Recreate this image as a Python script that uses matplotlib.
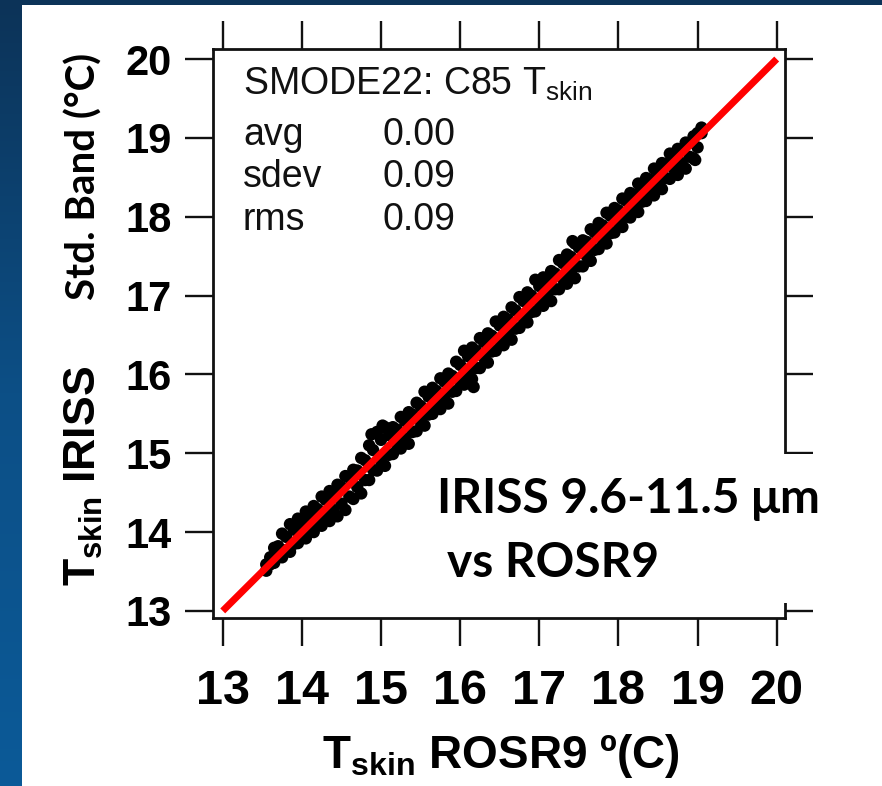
import numpy as np
import matplotlib
matplotlib.use('Agg')
import matplotlib.pyplot as plt
from matplotlib.patches import Rectangle

# Data
# ROSR9 skin temperature (deg C) and IRISS - ROSR9 difference, read along the band edges
rosr_outer = [13.55, 13.65, 13.75, 13.85, 13.95, 14.05, 14.15, 14.25, 14.35, 14.45,
              14.55, 14.65, 14.75, 14.85, 14.95, 15.05, 15.15, 15.25, 15.35, 15.45,
              15.55, 15.65, 15.75, 15.85, 15.95, 16.05, 16.15, 16.25, 16.35, 16.45,
              16.55, 16.65, 16.75, 16.85, 16.95, 17.05, 17.15, 17.25, 17.35, 17.45,
              17.55, 17.65, 17.75, 17.85, 17.95, 18.05, 18.15, 18.25, 18.35, 18.45,
              18.55, 18.65, 18.75, 18.85, 18.95, 19.05]
diff_hi = [0.04, 0.15, 0.23, 0.25, 0.22, 0.21, 0.18, 0.20, 0.17, 0.15,
           0.16, 0.14, 0.19, 0.25, 0.32, 0.28, 0.18, 0.21, 0.17, 0.19,
           0.23, 0.18, 0.20, 0.16, 0.21, 0.25, 0.19, 0.21, 0.17, 0.22,
           0.18, 0.20, 0.23, 0.19, 0.25, 0.18, 0.16, 0.20, 0.17, 0.21,
           0.15, 0.19, 0.17, 0.20, 0.16, 0.18, 0.15, 0.17, 0.14, 0.16,
           0.13, 0.15, 0.11, 0.09, 0.07, 0.08]
diff_lo = [-0.04, -0.04, -0.07, -0.10, -0.09, -0.13, -0.15, -0.17, -0.21, -0.25,
           -0.27, -0.23, -0.26, -0.19, -0.17, -0.21, -0.16, -0.19, -0.23, -0.17,
           -0.20, -0.15, -0.19, -0.22, -0.16, -0.18, -0.21, -0.17, -0.20, -0.15,
           -0.18, -0.21, -0.16, -0.19, -0.15, -0.18, -0.22, -0.17, -0.20, -0.23,
           -0.18, -0.21, -0.16, -0.19, -0.15, -0.18, -0.16, -0.19, -0.15, -0.18,
           -0.20, -0.17, -0.22, -0.24, -0.21, 0.01]
rosr_inner = [13.60, 13.70, 13.80, 13.90, 14.00, 14.10, 14.20, 14.30, 14.40, 14.50,
              14.60, 14.70, 14.80, 14.90, 15.00, 15.10, 15.20, 15.30, 15.40, 15.50,
              15.60, 15.70, 15.80, 15.90, 16.00, 16.10, 16.20, 16.30, 16.40, 16.50,
              16.60, 16.70, 16.80, 16.90, 17.00, 17.10, 17.20, 17.30, 17.40, 17.50,
              17.60, 17.70, 17.80, 17.90, 18.00, 18.10, 18.20, 18.30, 18.40, 18.50,
              18.60, 18.70, 18.80, 18.90, 19.00]
diff_in_hi = [0.08, 0.12, 0.14, 0.13, 0.11, 0.10, 0.09, 0.11, 0.08, 0.07,
              0.09, 0.08, 0.11, 0.14, 0.17, 0.13, 0.10, 0.11, 0.09, 0.10,
              0.12, 0.09, 0.11, 0.08, 0.12, 0.13, 0.10, 0.11, 0.09, 0.12,
              0.10, 0.11, 0.13, 0.10, 0.12, 0.09, 0.08, 0.11, 0.09, 0.11,
              0.08, 0.10, 0.09, 0.11, 0.08, 0.10, 0.08, 0.09, 0.07, 0.08,
              0.07, 0.08, 0.05, 0.04, 0.06]
diff_in_lo = [-0.01, -0.01, -0.03, -0.05, -0.06, -0.08, -0.09, -0.10, -0.12, -0.14,
              -0.15, -0.13, -0.14, -0.11, -0.10, -0.12, -0.09, -0.11, -0.13, -0.10,
              -0.11, -0.09, -0.10, -0.12, -0.09, -0.10, -0.12, -0.09, -0.11, -0.08,
              -0.10, -0.12, -0.09, -0.11, -0.08, -0.10, -0.12, -0.09, -0.11, -0.13,
              -0.10, -0.12, -0.09, -0.11, -0.08, -0.10, -0.09, -0.11, -0.08, -0.10,
              -0.11, -0.09, -0.12, -0.14, -0.12]
# a few stray points off the band
rosr_stray = [14.88, 15.02, 16.17, 17.42, 18.97]
diff_stray = [0.36, 0.33, -0.33, 0.27, -0.25]

one_to_one = [13, 20]
ticks = [13, 14, 15, 16, 17, 18, 19, 20]
stats_names = ['avg', 'sdev', 'rms']
stats_vals = ['0.00', '0.09', '0.09']

# Fonts
plt.rcParams['mathtext.fontset'] = 'custom'
plt.rcParams['mathtext.rm'] = 'Liberation Sans'
plt.rcParams['mathtext.bf'] = 'Liberation Sans:bold'

W, H = 882, 786
def fx(px):
    return px / W
def fy(py):
    return 1 - py / H

fig = plt.figure(figsize=(W / 100, H / 100), dpi=100)

# Blue slide background with the white panel
bg = fig.add_axes([0, 0, 1, 1], zorder=-10)
grad = np.linspace(0, 1, 256).reshape(-1, 1)
cmap = matplotlib.colors.LinearSegmentedColormap.from_list('bg', ['#0c3358', '#0d4f86', '#0b5a98'])
bg.imshow(grad, aspect='auto', cmap=cmap, extent=[0, 1, 0, 1])
bg.add_patch(Rectangle((fx(22), 0), 1, fy(5), facecolor='white', edgecolor='none'))
bg.set_xlim(0, 1)
bg.set_ylim(0, 1)
bg.axis('off')

ax = fig.add_axes([fx(213), fy(618), fx(785) - fx(213), fy(49) - fy(618)])

x_all = np.concatenate([rosr_outer, rosr_outer, rosr_inner, rosr_inner, rosr_stray])
d_all = np.concatenate([diff_hi, diff_lo, diff_in_hi, diff_in_lo, diff_stray])
ax.scatter(x_all, x_all + d_all, s=80, c='black', edgecolors='none', zorder=2)
ax.plot(one_to_one, one_to_one, color='#ff0000', lw=5, solid_capstyle='butt', zorder=3)

ax.set_xlim(12.877, 20.105)
ax.set_ylim(12.91, 20.127)
ax.set_xticks(ticks)
ax.set_yticks(ticks)
ax.tick_params(axis='both', direction='out', length=20, width=1.7, color='#111111',
               top=True, right=True)
ax.tick_params(axis='x', pad=17, labelsize=35)
ax.tick_params(axis='y', pad=10, labelsize=30)
for lab in ax.get_xticklabels():
    lab.set_family(['Liberation Sans Narrow', 'Liberation Sans'])
    lab.set_weight('bold')
for lab in ax.get_yticklabels():
    lab.set_family('Liberation Sans')
    lab.set_weight('bold')
for sp in ax.spines.values():
    sp.set_linewidth(2.0)
    sp.set_color('#111111')

# Stats text
fig.text(fx(243), fy(95), 'SMODE22: C85 T$_{\\mathrm{skin}}$', fontsize=27,
         family='Liberation Sans', color='#111111', va='baseline')
for i in range(len(stats_names)):
    by = [145, 187, 230][i]
    fig.text(fx(243), fy(by), stats_names[i], fontsize=27, family='Liberation Sans',
             color='#111111', va='baseline')
    fig.text(fx(382), fy(by), stats_vals[i], fontsize=27, family='Liberation Sans',
             color='#111111', va='baseline')

# Band label on a white patch over the right axis
fig.patches.append(Rectangle((fx(432), fy(603)), fx(829) - fx(432), fy(454) - fy(603),
                             transform=fig.transFigure, facecolor='white',
                             edgecolor='none', zorder=5))
fig.text(fx(437), fy(513), 'IRISS 9.6-11.5 \u03bcm', fontsize=34.5, weight='bold',
         family=['Lato', 'DejaVu Sans'], va='baseline', zorder=6)
fig.text(fx(447), fy(577), 'vs ROSR9', fontsize=34.5, weight='bold',
         family=['Lato', 'DejaVu Sans'], va='baseline', zorder=6)

# Axis labels
fig.text(fx(501), fy(768), 'T$_{\\mathbf{skin}}$ ROSR9 \u00ba(C)', fontsize=33,
         weight='bold', family='Liberation Sans', ha='center', va='baseline')
fig.text(fx(84), fy(476), 'T$_{\\mathbf{skin}}$ IRISS', fontsize=32, weight='bold',
         family='Liberation Sans', rotation=90, ha='center', va='center')
fig.text(fx(84), fy(176), 'Std. Band (\u00b0C)', fontsize=29, weight='bold',
         family=['Lato', 'DejaVu Sans'], rotation=90, ha='center', va='center')

fig.savefig('out.png', dpi=100)
